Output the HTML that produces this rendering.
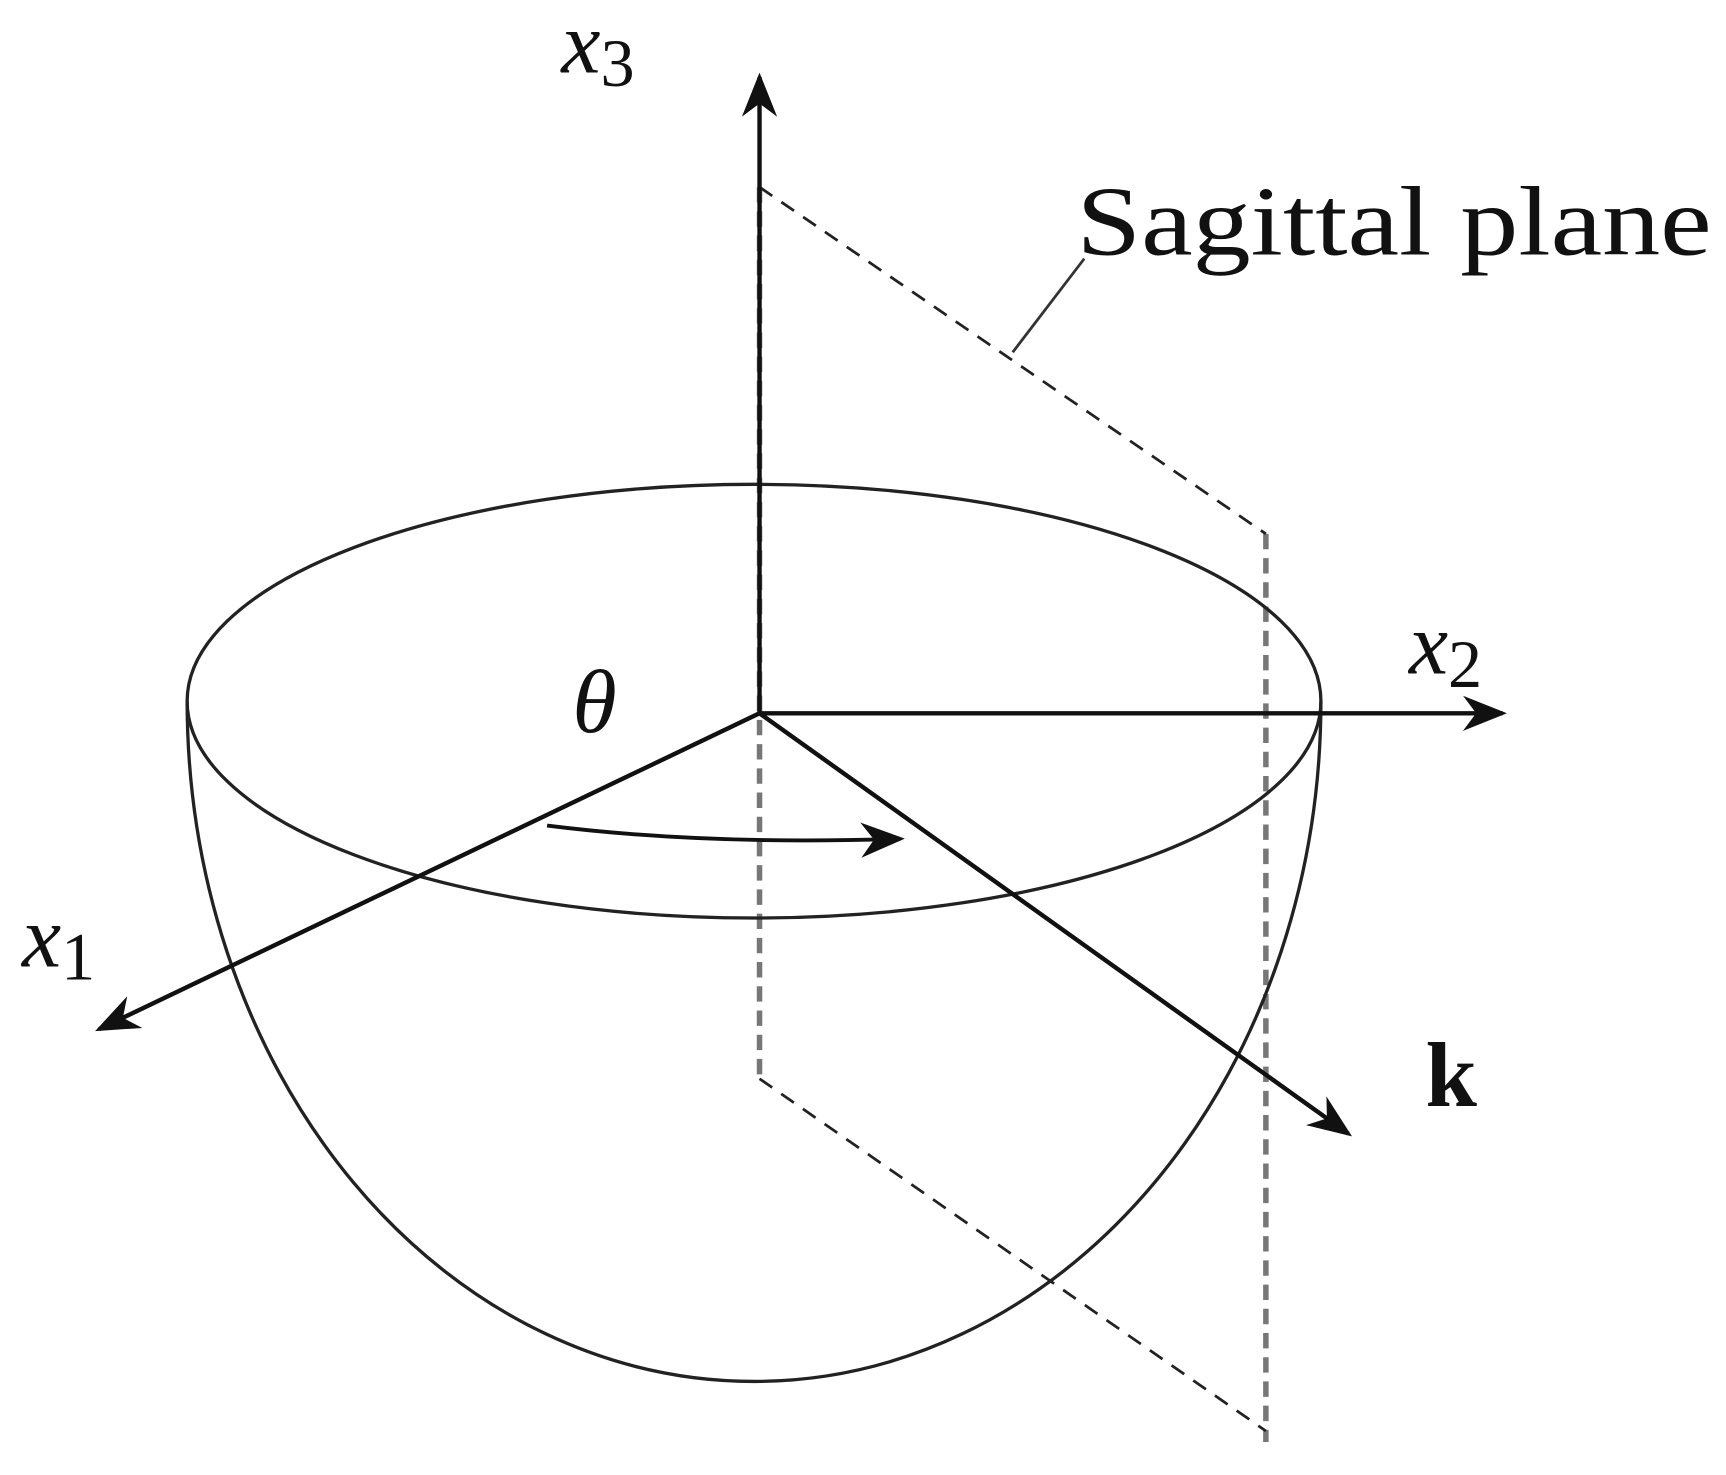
<!DOCTYPE html>
<html><head><meta charset="utf-8"><style>
html,body{margin:0;padding:0;background:#fff;}
svg{display:block;}
text{font-family:"Liberation Serif",serif;fill:#111;}
</style></head><body>
<svg width="1726" height="1475" viewBox="0 0 1568 1340" preserveAspectRatio="none" xmlns="http://www.w3.org/2000/svg">
<defs>
<marker id="ah2" viewBox="0 0 20 20" refX="18" refY="10" markerWidth="40" markerHeight="40" markerUnits="userSpaceOnUse" orient="auto">
<path d="M0,2 L20,10 L0,18 L6,10 Z" fill="#111"/>
</marker>
</defs>
<line x1="690" y1="170" x2="690" y2="980" stroke="#777" stroke-width="5" stroke-dasharray="14,8"/>
<line x1="1150" y1="485" x2="1150" y2="1310" stroke="#777" stroke-width="5" stroke-dasharray="14,8"/>
<line x1="690" y1="170" x2="1150" y2="485" stroke="#222" stroke-width="2.5" stroke-dasharray="14,10"/>
<line x1="690" y1="980" x2="1150" y2="1300" stroke="#222" stroke-width="2.5" stroke-dasharray="14,10"/>
<line x1="920" y1="320" x2="985" y2="235" stroke="#333" stroke-width="2.5"/>
<ellipse cx="685" cy="637" rx="515" ry="197" fill="none" stroke="#222" stroke-width="3"/>
<path d="M170,637 A515,618 0 0 0 1200,637" fill="none" stroke="#222" stroke-width="3"/>
<line x1="690" y1="648" x2="690" y2="70" stroke="#111" stroke-width="4" marker-end="url(#ah2)"/>
<line x1="690" y1="648" x2="1365" y2="648" stroke="#111" stroke-width="4" marker-end="url(#ah2)"/>
<line x1="690" y1="648" x2="90" y2="935" stroke="#111" stroke-width="4" marker-end="url(#ah2)"/>
<line x1="690" y1="648" x2="1225" y2="1030" stroke="#111" stroke-width="4" marker-end="url(#ah2)"/>
<path d="M497,750 Q640,768 818,762" fill="none" stroke="#111" stroke-width="3.5" marker-end="url(#ah2)"/>
<text x="510" y="66" font-size="80" font-style="italic">x<tspan font-style="normal" font-size="62" dy="12">3</tspan></text>
<text x="1280" y="612" font-size="80" font-style="italic">x<tspan font-style="normal" font-size="62" dy="12">2</tspan></text>
<text x="20" y="878" font-size="80" font-style="italic">x<tspan font-style="normal" font-size="62" dy="12">1</tspan></text>
<text x="520" y="665" font-size="82" font-style="italic">θ</text>
<text x="1295" y="1005" font-size="84" font-weight="bold">k</text>
<text x="978" y="231" font-size="90" textLength="577" lengthAdjust="spacingAndGlyphs">Sagittal plane</text>
</svg>
</body></html>
